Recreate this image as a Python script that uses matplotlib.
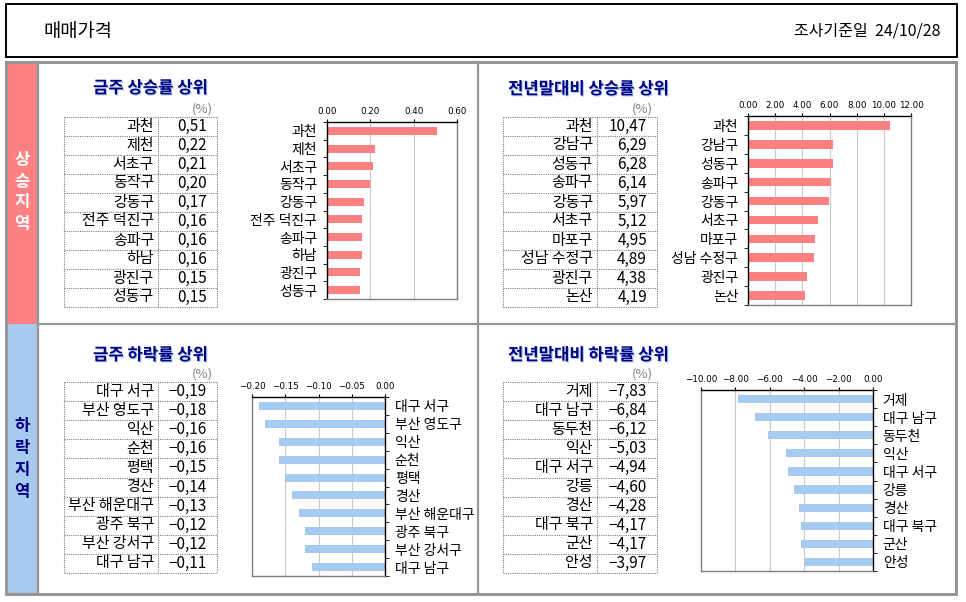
import matplotlib
matplotlib.use('Agg')
import matplotlib.pyplot as plt
import matplotlib.patheffects as pe
from matplotlib.patches import Rectangle
import numpy as np

plt.rcParams['font.family'] = ['Noto Sans CJK KR', 'DejaVu Sans']

W, H = 966, 602

title_main = '매매가격'
survey_date = '조사기준일  24/10/28'
side_up = '상승지역'
side_down = '하락지역'

week_up_title = '금주 상승률 상위'
week_up_names = ['과천', '제천', '서초구', '동작구', '강동구', '전주 덕진구', '송파구', '하남', '광진구', '성동구']
week_up_vals = [0.51, 0.22, 0.21, 0.20, 0.17, 0.16, 0.16, 0.16, 0.15, 0.15]
week_up_ticks = [0.0, 0.2, 0.4, 0.6]

year_up_title = '전년말대비 상승률 상위'
year_up_names = ['과천', '강남구', '성동구', '송파구', '강동구', '서초구', '마포구', '성남 수정구', '광진구', '논산']
year_up_vals = [10.47, 6.29, 6.28, 6.14, 5.97, 5.12, 4.95, 4.89, 4.38, 4.19]
year_up_ticks = [0, 2, 4, 6, 8, 10, 12]

week_down_title = '금주 하락률 상위'
week_down_names = ['대구 서구', '부산 영도구', '익산', '순천', '평택', '경산', '부산 해운대구', '광주 북구', '부산 강서구', '대구 남구']
week_down_vals = [-0.19, -0.18, -0.16, -0.16, -0.15, -0.14, -0.13, -0.12, -0.12, -0.11]
week_down_ticks = [-0.20, -0.15, -0.10, -0.05, 0.0]

year_down_title = '전년말대비 하락률 상위'
year_down_names = ['거제', '대구 남구', '동두천', '익산', '대구 서구', '강릉', '경산', '대구 북구', '군산', '안성']
year_down_vals = [-7.83, -6.84, -6.12, -5.03, -4.94, -4.60, -4.28, -4.17, -4.17, -3.97]
year_down_ticks = [-10, -8, -6, -4, -2, 0]

PINK = '#FF8080'
BLUE = '#A6CAF0'
NAVY = '#000080'
GRAY = '#969696'

fig = plt.figure(figsize=(W / 100, H / 100), dpi=100)
bg = fig.add_axes([0, 0, 1, 1])
bg.set_xlim(0, W)
bg.set_ylim(H, 0)
bg.axis('off')


def px_axes(x0, y0, x1, y1):
    return fig.add_axes([x0 / W, 1 - y1 / H, (x1 - x0) / W, (y1 - y0) / H])


def fmt(v):
    return f'{v:.2f}'.replace('-', '\u2212')


# header box
bg.add_patch(Rectangle((6, 4), 951, 53, fill=False, ec='black', lw=1.4))
bg.text(43, 31, title_main, fontsize=13.5, va='center')
bg.text(941, 31, survey_date, fontsize=11.5, ha='right', va='center')

# left strip
bg.add_patch(Rectangle((6, 62), 32, 262, fc=PINK, ec='none'))
bg.add_patch(Rectangle((6, 324), 32, 270, fc=BLUE, ec='none'))
for i, ch in enumerate(side_up):
    bg.text(22, 192 + (i - 1.5) * 21, ch, fontsize=12, fontweight='bold',
            color='white', ha='center', va='center')
for i, ch in enumerate(side_down):
    bg.text(22, 459 + (i - 1.5) * 22, ch, fontsize=12, fontweight='bold',
            color=NAVY, ha='center', va='center')

# gray grid
bg.add_patch(Rectangle((6, 62), 950, 532, fill=False, ec=GRAY, lw=2.2))
bg.plot([38, 38], [62, 594], color=GRAY, lw=1.6)
bg.plot([478, 478], [62, 594], color=GRAY, lw=1.6)
bg.plot([38, 956], [324, 324], color=GRAY, lw=1.6)

shadow = [pe.withSimplePatchShadow(offset=(0.8, -0.8), shadow_rgbFace='#6FA8E8', alpha=0.6)]


def draw_panel(title, names, vals, ticks, color, title_xy, table, box, right_labels):
    tx, ty = title_xy
    bg.text(tx, ty, title, fontsize=12, fontweight='bold', color=NAVY, va='center',
            path_effects=shadow)

    x0, xd, x1, y0, rh = table
    n = len(names)
    y1 = y0 + rh * n
    bg.text(x1 - 4, y0 - 8, '(%)', fontsize=9.5, color='#808080', ha='right', va='center')
    dot = dict(color='#808080', lw=0.8, ls=(0, (1, 1)))
    for i in range(n + 1):
        bg.plot([x0, x1], [y0 + i * rh] * 2, **dot)
    for x in (x0, xd, x1):
        bg.plot([x, x], [y0, y1], **dot)
    for i, (nm, v) in enumerate(zip(names, vals)):
        yc = y0 + (i + 0.5) * rh
        bg.text(xd - 4, yc, nm, fontsize=10.8, ha='right', va='center')
        bg.text(x1 - 10, yc, fmt(v).replace('.', ','), fontsize=11, ha='right', va='center')

    ax = px_axes(*box)
    y = np.arange(n)
    ax.barh(y, vals, height=0.45, color=color, zorder=2)
    ax.set_ylim(n - 0.5, -0.5)
    ax.set_xlim(ticks[0], ticks[-1])
    ax.set_xticks(ticks)
    ax.set_xticklabels([fmt(t) for t in ticks], fontsize=6.3, fontfamily='DejaVu Sans')
    ax.xaxis.tick_top()
    ax.tick_params(axis='x', length=2, pad=2, color='black')
    ax.grid(axis='x', color='#C8C8C8', lw=0.8)
    ax.set_axisbelow(True)
    ax.set_yticks(y)
    ax.set_yticklabels(names, fontsize=10)
    ax.set_yticks(np.arange(n + 1) - 0.5, minor=True)
    if right_labels:
        ax.yaxis.tick_right()
    else:
        ax.yaxis.tick_left()
    ax.tick_params(axis='y', which='major', length=0, pad=7)
    ax.tick_params(axis='y', which='minor', length=3, direction='out', color='black')
    cat_side = 'right' if right_labels else 'left'
    for side, sp in ax.spines.items():
        sp.set_linewidth(1.0)
        sp.set_color('black' if side in ('top', cat_side) else '#808080')
    return ax


draw_panel(week_up_title, week_up_names, week_up_vals, week_up_ticks, PINK,
           (93, 88), (64, 158, 217, 117, 19), (327, 122, 457, 299), False)
draw_panel(year_up_title, year_up_names, year_up_vals, year_up_ticks, PINK,
           (508, 89), (503, 597, 657, 117, 19), (748, 116, 911, 305), False)
draw_panel(week_down_title, week_down_names, week_down_vals, week_down_ticks, BLUE,
           (93, 355), (64, 158, 217, 382, 19.1), (252, 397, 385, 576), True)
draw_panel(year_down_title, year_down_names, year_down_vals, year_down_ticks, BLUE,
           (508, 355), (503, 597, 657, 382, 19.1), (701, 390, 873, 571), True)

fig.savefig('out.png', dpi=100)
